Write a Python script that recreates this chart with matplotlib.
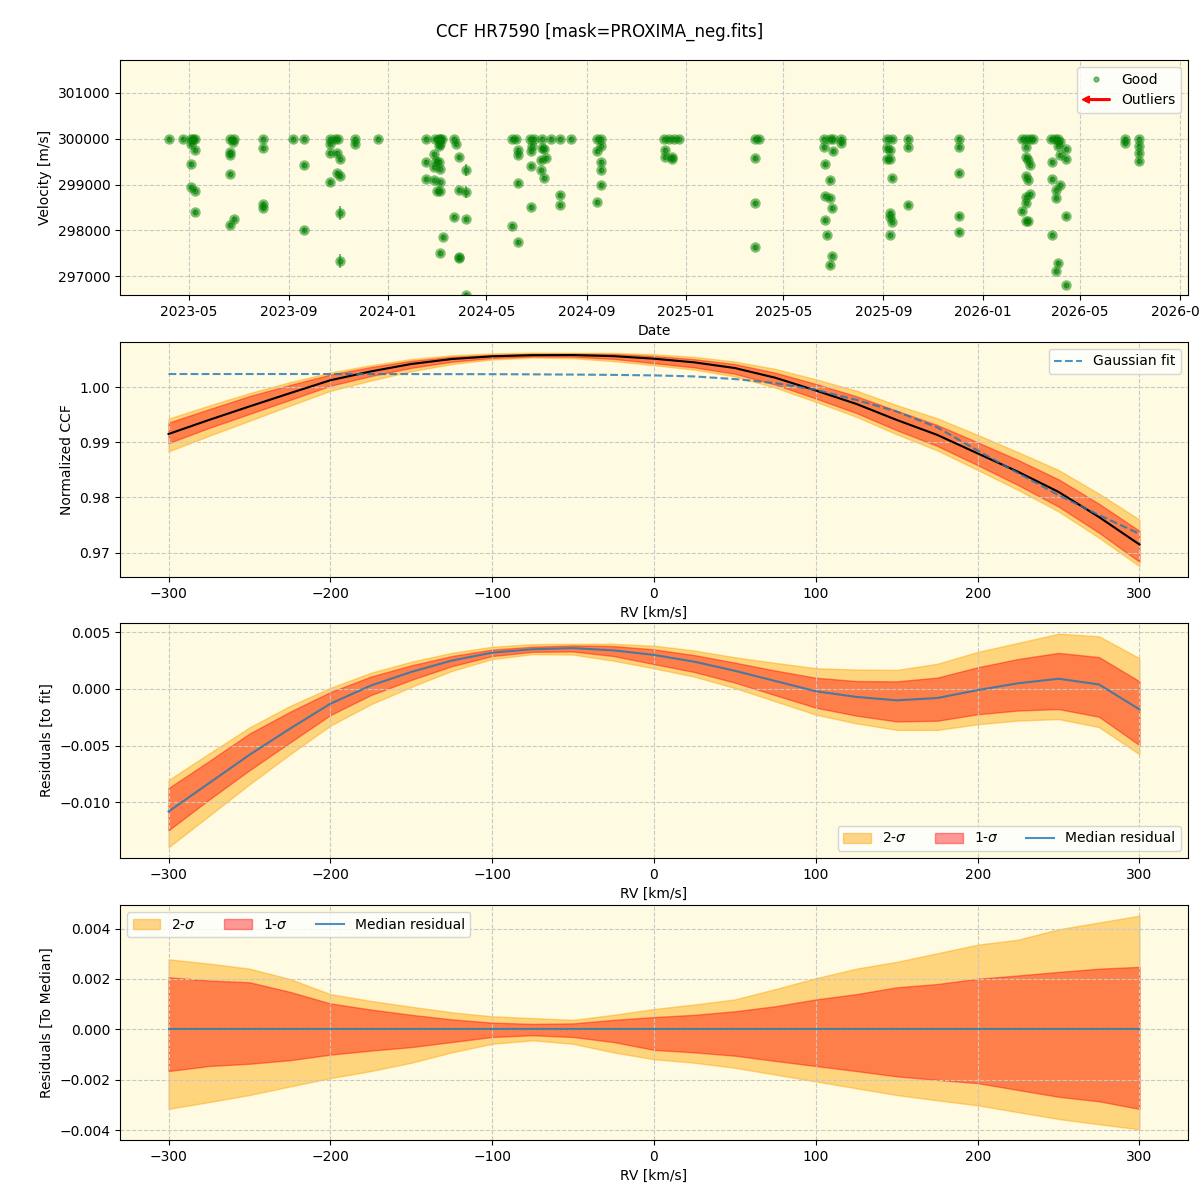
import numpy as np
import matplotlib
matplotlib.use('Agg')
import matplotlib.pyplot as plt
import matplotlib.dates as mdates
from matplotlib.patches import FancyArrow
from matplotlib.legend_handler import HandlerPatch

# ---- RV time series (top panel) ----
obs_date = [
    '2023-04-06', '2023-04-24', '2023-05-03', '2023-05-06', '2023-05-08', '2023-05-03', '2023-05-08',
    '2023-05-03', '2023-05-03', '2023-05-08', '2023-05-08',
    '2023-06-21', '2023-06-26', '2023-06-24', '2023-06-21', '2023-06-21', '2023-06-21', '2023-06-26', '2023-06-21',
    '2023-07-31', '2023-07-31', '2023-07-31', '2023-07-31',
    '2023-09-06', '2023-09-19', '2023-09-19', '2023-09-19',
    '2023-10-22', '2023-10-28', '2023-11-01', '2023-10-22', '2023-10-22', '2023-10-30', '2023-11-03',
    '2023-10-30', '2023-11-03', '2023-10-22', '2023-11-03', '2023-11-03',
    '2023-11-21', '2023-11-21', '2023-12-20',
    '2024-02-16', '2024-03-03', '2024-02-28', '2024-03-05', '2024-03-07', '2024-03-22', '2024-03-25',
    '2024-03-05', '2024-03-03', '2024-02-26', '2024-02-29', '2024-03-03', '2024-02-16', '2024-02-26',
    '2024-03-05', '2024-03-28', '2024-04-06', '2024-02-16', '2024-02-26', '2024-03-05', '2024-03-01',
    '2024-03-05', '2024-03-28', '2024-04-06', '2024-03-22', '2024-04-06', '2024-03-08', '2024-03-05',
    '2024-03-28', '2024-03-28', '2024-04-06',
    '2024-06-01', '2024-06-06', '2024-06-23', '2024-06-28', '2024-07-08', '2024-07-19', '2024-07-30',
    '2024-08-13', '2024-06-09', '2024-06-09', '2024-06-25', '2024-06-26', '2024-07-08', '2024-07-11',
    '2024-07-13', '2024-07-07', '2024-06-25', '2024-07-07', '2024-07-11', '2024-06-09', '2024-07-30',
    '2024-07-30', '2024-06-25', '2024-06-01', '2024-06-09',
    '2024-09-14', '2024-09-19', '2024-09-14', '2024-09-19', '2024-09-19', '2024-09-19', '2024-09-19',
    '2024-09-14',
    '2024-12-05', '2024-12-11', '2024-12-18', '2024-12-24', '2024-12-07', '2024-12-07', '2024-12-15',
    '2024-12-15',
    '2025-03-27', '2025-04-01', '2025-03-27', '2025-03-27', '2025-03-27',
    '2025-06-20', '2025-06-27', '2025-07-01', '2025-07-11', '2025-06-20', '2025-07-01', '2025-07-11',
    '2025-06-21', '2025-06-28', '2025-06-21', '2025-06-28', '2025-06-30', '2025-06-21', '2025-06-24',
    '2025-06-30', '2025-06-28',
    '2025-09-05', '2025-09-12', '2025-09-05', '2025-09-09', '2025-09-05', '2025-09-09', '2025-09-12',
    '2025-09-09', '2025-09-09', '2025-09-12', '2025-09-09',
    '2025-10-01', '2025-10-01', '2025-10-01',
    '2025-12-03', '2025-12-03', '2025-12-03', '2025-12-03', '2025-12-03',
    '2026-02-19', '2026-02-24', '2026-02-28', '2026-03-04', '2026-02-23', '2026-02-24', '2026-02-26',
    '2026-03-01', '2026-02-24', '2026-02-26', '2026-02-24', '2026-03-01', '2026-02-24', '2026-02-19',
    '2026-02-24', '2026-02-26',
    '2026-03-26', '2026-03-31', '2026-04-04', '2026-04-06', '2026-04-04', '2026-04-14', '2026-04-06',
    '2026-04-14', '2026-03-28', '2026-03-28', '2026-04-06', '2026-04-01', '2026-04-01', '2026-04-14',
    '2026-03-28', '2026-04-04', '2026-04-01', '2026-04-14',
    '2026-06-25', '2026-07-13', '2026-06-25', '2026-07-13', '2026-07-13', '2026-07-13',
]
obs_rv = [
    300000, 300000, 300000, 300000, 300000, 299890, 299760,
    299450, 298940, 298870, 298400,
    300000, 300000, 299930, 299710, 299640, 299230, 298250, 298120,
    300000, 299800, 298580, 298490,
    300000, 300000, 299430, 298010,
    300000, 300000, 300000, 299890, 299690, 299690, 299560,
    299260, 299180, 299060, 298380, 297330,
    300000, 299890, 300000,
    300000, 300000, 300000, 300000, 300000, 300000, 299890,
    299890, 299850, 299660, 299520, 299490, 299500, 299390,
    299340, 299600, 299320, 299120, 299090, 299050, 298850,
    298870, 298880, 298830, 298300, 298250, 297860, 297510,
    297420, 297390, 296580,
    300000, 300000, 300000, 300000, 300000, 300000, 300000,
    300000, 299760, 299650, 299740, 299850, 299800, 299780,
    299580, 299530, 299410, 299310, 299150, 299040, 298770,
    298550, 298510, 298090, 297740,
    300000, 300000, 299740, 299840, 299500, 299320, 298990,
    298620,
    300000, 300000, 300000, 300000, 299760, 299600, 299600,
    299550,
    300000, 300000, 299580, 298590, 297630,
    300000, 300000, 300000, 300000, 299820, 299730, 299910,
    299450, 299100, 298760, 298710, 298490, 298230, 297910,
    297450, 297250,
    300000, 300000, 299800, 299760, 299550, 299550, 299150,
    298390, 298300, 298180, 297910,
    300000, 299820, 298560,
    300000, 299820, 299260, 298320, 297970,
    300000, 300000, 300000, 300000, 299830, 299600, 299530,
    299430, 299180, 299110, 298740, 298800, 298590, 298420,
    298210, 298200,
    300000, 300000, 300000, 299930, 299850, 299780, 299640,
    299560, 299490, 299120, 298990, 298890, 298710, 298320,
    297910, 297290, 297110, 296800,
    300000, 300000, 299910, 299850, 299690, 299510,
]
obs_err = [
    30, 30, 30, 30, 30, 40, 40,
    40, 40, 40, 40,
    30, 30, 40, 40, 40, 40, 40, 40,
    30, 40, 40, 40,
    30, 30, 40, 40,
    30, 30, 30, 40, 40, 40, 40,
    40, 40, 40, 160, 150,
    30, 40, 30,
    30, 30, 30, 30, 30, 30, 40,
    40, 40, 40, 40, 40, 40, 40,
    40, 40, 130, 40, 40, 40, 40,
    40, 40, 130, 40, 40, 40, 40,
    40, 40, 60,
    30, 30, 30, 30, 30, 30, 30,
    30, 40, 40, 40, 40, 40, 40,
    40, 40, 40, 40, 40, 40, 40,
    40, 40, 40, 40,
    30, 30, 40, 40, 40, 40, 40,
    40,
    30, 30, 30, 30, 40, 40, 40,
    40,
    30, 30, 40, 40, 40,
    30, 30, 30, 30, 40, 40, 40,
    40, 40, 40, 40, 40, 40, 40,
    40, 40,
    30, 30, 40, 40, 40, 40, 40,
    40, 40, 40, 40,
    30, 40, 40,
    30, 40, 40, 40, 40,
    30, 30, 30, 30, 40, 40, 40,
    40, 40, 40, 40, 40, 40, 40,
    40, 40,
    30, 30, 30, 40, 40, 40, 40,
    40, 40, 40, 40, 40, 40, 40,
    40, 40, 40, 40,
    30, 30, 40, 40, 40, 40,
]

# ---- CCF profiles (km/s grid) ----
rv = [-300, -275, -250, -225, -200, -175, -150, -125, -100, -75, -50, -25, 0,
      25, 50, 75, 100, 125, 150, 175, 200, 225, 250, 275, 300]
ccf_median = [0.99150, 0.99405, 0.99650, 0.99890, 1.00125, 1.00285, 1.00420, 1.00510, 1.00559,
              1.00580, 1.00582, 1.00562, 1.00516, 1.00449, 1.00346, 1.00170, 0.99939, 0.99696,
              0.99405, 0.99134, 0.98798, 0.98464, 0.98100, 0.97644, 0.97146]
gauss_fit = [1.00238, 1.00238, 1.00238, 1.00238, 1.00238, 1.00237, 1.00237, 1.00236, 1.00235,
             1.00232, 1.00228, 1.00222, 1.00213, 1.00194, 1.00146, 1.00073, 0.99951, 0.99769,
             0.99557, 0.99271, 0.98850, 0.98440, 0.98040, 0.97680, 0.97340]
resid_fit = [-0.0108, -0.0083, -0.0058, -0.0035, -0.0013, 0.0003, 0.0015, 0.0025, 0.0032,
             0.0035, 0.0036, 0.0034, 0.0030, 0.0024, 0.0016, 0.0007, -0.0002, -0.0007,
             -0.0010, -0.0008, -0.0001, 0.0005, 0.0009, 0.0004, -0.0018]
# band edges relative to the median profile
hi2 = [0.00278, 0.00261, 0.00241, 0.00200, 0.00140, 0.00113, 0.00090, 0.00068, 0.00052, 0.00045,
       0.00038, 0.00058, 0.00081, 0.00099, 0.00119, 0.00160, 0.00203, 0.00241, 0.00268, 0.00302,
       0.00336, 0.00356, 0.00397, 0.00424, 0.00451]
hi1 = [0.00207, 0.00194, 0.00187, 0.00149, 0.00103, 0.00079, 0.00058, 0.00040, 0.00027, 0.00022,
       0.00024, 0.00038, 0.00049, 0.00058, 0.00072, 0.00092, 0.00119, 0.00140, 0.00167, 0.00180,
       0.00201, 0.00214, 0.00228, 0.00241, 0.00248]
lo1 = [-0.00165, -0.00145, -0.00136, -0.00122, -0.00100, -0.00084, -0.00070, -0.00050, -0.00030,
       -0.00023, -0.00030, -0.00050, -0.00081, -0.00091, -0.00104, -0.00125, -0.00145, -0.00165,
       -0.00186, -0.00200, -0.00213, -0.00240, -0.00267, -0.00285, -0.00315]
lo2 = [-0.00315, -0.00288, -0.00260, -0.00226, -0.00193, -0.00165, -0.00132, -0.00091, -0.00057,
       -0.00043, -0.00057, -0.00091, -0.00118, -0.00132, -0.00152, -0.00179, -0.00206, -0.00233,
       -0.00260, -0.00281, -0.00301, -0.00328, -0.00355, -0.00376, -0.00396]

bg = '#fefbe2'
gridkw = dict(linestyle='--', color='#c8c8c8', linewidth=0.8)


def arrow_handle(legend, orig_handle, xdescent, ydescent, width, height, fontsize):
    # thin red arrow pointing left, as in the legend of the original
    return FancyArrow(width, height / 2, -width, 0, width=1.2, head_width=5,
                      head_length=5, length_includes_head=True, color='red')


fig = plt.figure(figsize=(12, 12), dpi=100)
fig.text(0.5, 1 - 32 / 1200, 'CCF HR7590 [mask=PROXIMA_neg.fits]', ha='center', va='center', fontsize=12)

ax1 = fig.add_axes([0.1, 0.75417, 0.89, 0.19583], facecolor=bg)
ax2 = fig.add_axes([0.1, 0.51917, 0.89, 0.19583], facecolor=bg)
ax3 = fig.add_axes([0.1, 0.285, 0.89, 0.19583], facecolor=bg)
ax4 = fig.add_axes([0.1, 0.05, 0.89, 0.19583], facecolor=bg)

# top panel
t = np.array(obs_date, dtype='datetime64[D]')
v = np.array(obs_rv, dtype=float)
e = np.array(obs_err, dtype=float)
ax1.errorbar(t, v, yerr=e, fmt='o', color='green', mec='none', alpha=0.5, ms=7.5)
good, = ax1.plot(t, v, 'o', color='green', alpha=0.5, ms=3.5, label='Good')
outl = FancyArrow(0, 0, 1, 0, color='red')
ax1.set_ylim(296590, 301720)
ax1.ticklabel_format(axis='y', style='plain', useOffset=False)
ax1.xaxis.set_major_locator(mdates.MonthLocator(bymonth=[1, 5, 9]))
ax1.xaxis.set_major_formatter(mdates.DateFormatter('%Y-%m'))
ax1.set_xlabel('Date')
ax1.set_ylabel('Velocity [m/s]')
ax1.grid(True, **gridkw)
ax1.legend([good, outl], ['Good', 'Outliers'], loc='upper right',
           handler_map={FancyArrow: HandlerPatch(patch_func=arrow_handle)})

x = np.array(rv, dtype=float)
med = np.array(ccf_median)
res = np.array(resid_fit)
h1, h2, l1, l2 = map(np.array, (hi1, hi2, lo1, lo2))

# CCF panel
ax2.fill_between(x, med + l2, med + h2, color='orange', alpha=0.45)
ax2.fill_between(x, med + l1, med + h1, color='red', alpha=0.4)
ax2.plot(x, med, 'k-', lw=1.5)
ax2.plot(x, gauss_fit, '--', color='C0', alpha=0.8, lw=1.5, label='Gaussian fit')
ax2.set_xlabel('RV [km/s]')
ax2.set_ylabel('Normalized CCF')
ax2.grid(True, **gridkw)
ax2.legend(loc='upper right')

# residuals to the fit
ax3.fill_between(x, res + l2, res + h2, color='orange', alpha=0.45, label=r'2-$\sigma$')
ax3.fill_between(x, res + l1, res + h1, color='red', alpha=0.4, label=r'1-$\sigma$')
ax3.plot(x, res, color='C0', alpha=0.8, lw=1.5, label='Median residual')
ax3.set_xlabel('RV [km/s]')
ax3.set_ylabel('Residuals [to fit]')
ax3.grid(True, **gridkw)
ax3.legend(loc='lower right', ncol=3)

# residuals to the median
ax4.fill_between(x, l2, h2, color='orange', alpha=0.45, label=r'2-$\sigma$')
ax4.fill_between(x, l1, h1, color='red', alpha=0.4, label=r'1-$\sigma$')
ax4.plot(x, np.zeros_like(x), color='C0', alpha=0.8, lw=1.5, label='Median residual')
ax4.set_xlabel('RV [km/s]')
ax4.set_ylabel('Residuals [To Median]')
ax4.grid(True, **gridkw)
ax4.legend(loc='upper left', ncol=3)

for ax in (ax2, ax3, ax4):
    ax.set_xlim(-330, 330)

fig.savefig('out.png', dpi=100)
